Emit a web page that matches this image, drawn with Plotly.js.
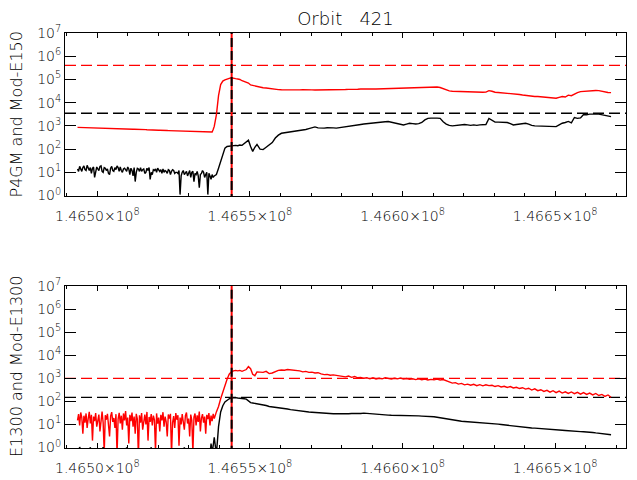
<!DOCTYPE html>
<html><head><meta charset="utf-8">
<script src="https://cdn.plot.ly/plotly-3.0.1.min.js"></script>
<style>html,body{margin:0;padding:0;background:#fff}#chart{width:637px;height:480px}</style>
</head><body><div id="chart"></div>
<script>
// Sample times (shared by all four series)
const time = [
146493500,146493850,146494200,146494550,146494900,146495250,146495600,146495950,146496300,146496650,
146497000,146497350,146497700,146498050,146498400,146498750,146499100,146499450,146499800,146500150,
146500500,146500850,146501200,146501550,146501900,146502250,146502600,146502950,146503300,146503650,
146504000,146504350,146504700,146505050,146505400,146505750,146506100,146506450,146506800,146507150,
146507500,146507850,146508200,146508550,146508900,146509250,146509600,146509950,146510300,146510650,
146511000,146511350,146511700,146512050,146512400,146512750,146513100,146513450,146513800,146514150,
146514500,146514850,146515200,146515550,146515900,146516250,146516600,146516950,146517300,146517650,
146518000,146518350,146518700,146519050,146519400,146519750,146520100,146520450,146520800,146521150,
146521500,146521850,146522200,146522550,146522900,146523250,146523600,146523950,146524300,146524650,
146525000,146525350,146525700,146526050,146526400,146526750,146527100,146527450,146527800,146528150,
146528500,146528850,146529200,146529550,146529900,146530250,146530600,146530950,146531300,146531650,
146532000,146532350,146532700,146533050,146533400,146533750,146534100,146534450,146534800,146535150,
146535500,146535850,146536200,146536550,146536900,146537250,146537600,146537950,146538300,
146539000,146539700,146540400,146541100,146541800,146542500,146543200,146543900,146544600,146545300,
146546000,146546700,146547400,146548100,146548800,146549500,146550200,146550900,146551600,146552300,
146553300,146554300,146555300,146556300,146557300,146558300,146559300,146560300,146561300,146562300,
146563300,146564300,146565300,146566300,146567300,146568300,146569300,146570300,146571300,146572300,
146573300,146574300,146575300,146576300,146577300,146578300,146579300,146580300,146581300,146582300,
146583300,146584300,146585300,146586300,146587300,146588300,146589300,146590300,146591300,146592300,
146593300,146594300,146595300,146596300,146597300,146598300,146599300,146600300,146601300,146602300,
146603300,146604300,146605300,146606300,146607300,146608300,146609300,146610300,146611300,146612300,
146613300,146614300,146615300,146616300,146617300,146618300,146619300,146620300,146621300,146622300,
146623300,146624300,146625300,146626300,146627300,146628300,146629300,146630300,146631300,146632300,
146633300,146634300,146635300,146636300,146637300,146638300,146639300,146640300,146641300,146642300,
146643300,146644300,146645300,146646300,146647300,146648300,146649300,146650300,146651300,146652300,
146653300,146654300,146655300,146656300,146657300,146658300,146659300,146660300,146661300,146662300,
146663300,146664300,146665300,146666300,146667300,146668300
];

// Panel 1 (P4GM and Mod-E150)
const panel1Red = [
860,855,850,848,845,848,850,845,840,835,
830,832,835,828,820,822,825,820,815,812,
810,805,800,802,805,798,790,792,795,788,
780,775,770,772,775,768,760,755,750,752,
755,748,740,738,735,732,730,728,725,722,
720,718,715,718,720,710,700,702,705,698,
690,688,685,688,690,682,675,672,670,668,
665,662,660,658,655,652,650,652,655,648,
640,638,635,632,630,628,625,622,620,618,
615,612,610,608,605,608,610,605,600,598,
595,592,590,588,585,588,590,585,580,578,
575,572,570,568,565,568,570,565,560,558,
555,558,560,555,550,548,545,700,950,
3000,20000,60000,85000,95000,105000,112000,118000,110000,108000,
104000,100000,88000,82000,76000,70000,58000,55000,52000,50000,
46000,44000,43000,41000,38000,37000,36500,36000,35500,35000,
35500,36000,35000,35500,36500,37000,36000,35500,35000,35000,
34500,35000,35500,35000,35500,36000,36500,37000,37000,37500,
37000,37500,38000,38500,38000,38500,39000,38500,39000,39500,
39000,40000,41000,40500,41000,42000,41500,42000,42500,42000,
43000,43500,44000,45000,46000,47000,48000,47500,47000,45000,
40000,36000,32000,31000,30500,30000,29500,29000,28500,28500,
28000,28000,28500,28000,28500,33000,31000,28000,27500,27000,
26500,26000,25500,24500,23500,22500,21500,20500,19500,19000,
18500,18500,18000,18000,17500,17000,16500,15500,17000,18500,
17500,21000,20000,24000,27000,30000,31000,32000,32500,33000,
33500,33000,31000,28000,27500,27000
];
const panel1Black = [
14,11,18,13,11,16,19,13,12,20,
15,12,16,9,15,17,6,12,17,14,
12,18,19,11,10,16,15,12,14,9,
8,15,18,12,11,16,13,19,16,11,
17,12,10,14,15,13,11,17,14,8,
15,12,7,16,4,10,15,14,11,16,
11,13,14,9,10,15,12,16,5,10,
8,13,12,14,10,15,12,11,13,9,
14,10,12,11,9,13,12,8,11,13,
12,9,10,10,9,12,1.1,7,10,12,
8,10,11,7,9,12,6,10,11,4,
9,8,11,7,2.2,8,9,12,10,6,
8,10,1.1,9,7,5,8,6,7,
8,15,30,60,110,130,135,140,135,145,
140,150,145,170,200,240,130,80,120,160,
100,95,120,150,190,300,400,480,500,520,
540,560,600,620,650,700,760,850,900,820,
790,800,830,850,820,800,830,880,900,950,
1000,1050,1100,1150,1200,1250,1230,1300,1350,1400,
1450,1500,1550,1450,1300,1200,1100,1100,1200,1300,
1250,1200,1250,1400,1800,2100,2150,2200,2150,2100,
1500,1200,1050,1000,1050,1100,1100,1150,1100,1050,
1100,1050,1100,1100,1150,2100,1700,1450,1450,1400,
1450,1400,1250,1100,1150,1200,1300,1300,1200,1050,
1000,1000,980,1000,1000,980,1000,930,1100,1300,
1400,1550,1350,2300,2100,2200,3100,3000,3200,3100,
3200,3200,3000,2700,2600,2500
];

// Panel 2 (E1300 and Mod-E1300)
const panel2Red = [
15,28,9,33,20,4,24,12,30,7,
18,35,11,26,2,22,14,31,8,19,
27,5,21,36,12,0.6,25,16,29,10,
3,23,34,13,19,7,28,0.5,17,32,
11,24,6,30,15,38,9,20,1.5,26,
14,33,8,22,4,29,17,0.4,25,12,
31,6,19,27,10,35,2,21,13,28,
9,24,16,0.7,30,11,20,5,26,15,
34,8,22,13,3,27,18,29,0.5,12,
23,7,31,16,25,1.2,20,10,28,14,
6,24,33,11,18,3,27,15,0.6,21,
30,9,25,13,36,5,19,28,12,22,
4,26,17,31,9,24,14,29,18,
35,60,130,260,500,900,1500,1900,2100,2200,
2100,2200,2000,2200,2400,3200,2600,1500,1300,1900,
1900,1800,2000,1600,1700,2000,2200,2300,2250,2400,
2300,2350,2200,2100,1900,2000,1800,1850,1700,1750,
1550,1450,1480,1350,1400,1350,1300,1250,1150,1250,
1100,1200,1050,1100,1000,1050,950,1050,930,1000,
950,1050,980,920,1000,950,1030,920,980,900,
960,880,950,870,920,850,900,860,920,850,
880,780,700,620,650,560,600,520,560,500,
550,480,530,470,520,480,500,440,480,420,
450,400,440,380,410,360,390,340,370,310,
350,290,320,270,300,250,290,240,280,230,
260,220,255,215,245,205,240,200,230,190,
220,180,200,165,190,150
];
const panel2Black = [
0.8,0.6,1.05,0.7,0.6,0.5,0.7,0.4,0.5,0.8,
0.9,0.6,1.03,0.5,0.6,0.7,0.4,0.5,0.8,0.6,
0.7,0.5,0.5,0.8,1.04,0.6,0.6,0.4,0.8,0.7,
0.3,0.6,0.7,0.5,0.6,0.8,0.9,0.5,0.5,0.7,
0.6,0.4,0.8,0.6,0.4,0.7,1.02,0.5,0.7,0.6,
0.5,0.8,0.6,0.7,0.8,0.5,0.3,0.6,0.7,0.4,
0.5,0.6,0.9,0.7,0.6,0.5,0.4,0.6,0.7,1.03,
0.5,0.7,0.6,0.5,0.8,0.6,0.4,0.7,0.7,0.5,
0.6,0.4,0.9,0.6,0.3,0.5,0.6,0.7,0.8,0.6,
0.5,0.7,0.7,0.4,0.4,0.6,0.8,0.5,0.6,0.7,
1.02,0.5,0.4,0.6,0.7,0.5,0.6,0.8,0.5,0.4,
0.8,0.6,0.6,0.7,0.4,0.5,0.7,0.6,0.5,0.3,
0.6,0.5,0.7,0.4,0.5,1.5,0.6,1.2,2.8,
0.5,8,35,65,95,115,130,140,145,145,
140,140,135,130,125,100,88,85,82,80,
75,72,66,60,58,56,55,53,50,47,
44,42,40,38,36,35,34.5,34,33,32,
31,30.5,30,29.5,29,29.5,29,29,28.5,29,
30,29.5,30,30,31,30,29.5,30,29,28,
27,26,25.5,25,25,24.5,24.5,24,24.5,24,
23.5,24,23.5,23,23,22.5,22,21.5,20.5,19.5,
18,17,16,15,14.5,14,13.8,13.5,13.2,13,
12.8,12.6,12.4,12.2,12,11.7,11.2,10.8,10.3,9.9,
9.5,9.2,8.8,8.4,8.0,7.7,7.4,7.3,7.1,7.0,
6.9,6.8,6.7,6.5,6.3,6.2,6.1,6.0,5.8,5.6,
5.5,5.3,5.2,5.1,5.0,4.9,4.8,4.8,4.7,4.5,
4.3,4.1,3.9,3.8,3.7,3.6
];

// Reference levels and event time
const panel1RedLevel = 4.0e5;
const panel1BlackLevel = 3.5e3;
const panel2RedLevel = 1.0e3;
const panel2BlackLevel = 150;
const eventTime = 146544000;

// Ticks
const xTickVals = [146500000, 146550000, 146600000, 146650000];
const xTickText = ['1.4650×10<sup>8</sup>', '1.4655×10<sup>8</sup>', '1.4660×10<sup>8</sup>', '1.4665×10<sup>8</sup>'];
const yTickVals = [1, 10, 100, 1e3, 1e4, 1e5, 1e6, 1e7];
const yTickText = ['10<sup>0</sup>','10<sup>1</sup>','10<sup>2</sup>','10<sup>3</sup>','10<sup>4</sup>','10<sup>5</sup>','10<sup>6</sup>','10<sup>7</sup>'];
const xRange = [146489400, 146673200];
const yRangeLog = [-0.02, 7];
const yLineSpan = [0.01, 1e8];

const FONT = 'DejaVu Sans, Liberation Sans, Arial, sans-serif';
const W = 200;

function panelTraces(xa, ya, red, black, redLevel, blackLevel) {
  return [
    {x: xRange, y: [redLevel, redLevel], xaxis: xa, yaxis: ya, mode: 'lines',
     line: {color: '#ff0000', width: 1.3, dash: '11px,5px'}},
    {x: xRange, y: [blackLevel, blackLevel], xaxis: xa, yaxis: ya, mode: 'lines',
     line: {color: '#000000', width: 1.3, dash: '11px,5px'}},
    {x: time, y: red, xaxis: xa, yaxis: ya, mode: 'lines',
     line: {color: '#ff0000', width: 1.4}},
    {x: time, y: black, xaxis: xa, yaxis: ya, mode: 'lines',
     line: {color: '#000000', width: 1.4}},
    {x: [eventTime, eventTime], y: yLineSpan, xaxis: xa, yaxis: ya, mode: 'lines',
     line: {color: '#ff0000', width: 2}},
    {x: [eventTime, eventTime], y: yLineSpan, xaxis: xa, yaxis: ya, mode: 'lines',
     line: {color: '#000000', width: 2, dash: '9px,4px'}}
  ];
}

const traces = [].concat(
  panelTraces('x', 'y', panel1Red, panel1Black, panel1RedLevel, panel1BlackLevel),
  panelTraces('x2', 'y2', panel2Red, panel2Black, panel2RedLevel, panel2BlackLevel)
);

function xAxis(anchor) {
  return {
    anchor: anchor, domain: [0, 1], range: xRange,
    tickmode: 'array', tickvals: xTickVals, ticktext: xTickText,
    ticks: 'inside', ticklen: 5, tickwidth: 1, tickcolor: '#000',
    minor: {tick0: 146500000, dtick: 10000, ticks: 'inside', ticklen: 3, tickwidth: 1, tickcolor: '#000', showgrid: false},
    showline: true, mirror: 'ticks', linecolor: '#000', linewidth: 1,
    showgrid: false, zeroline: false, ticklabelstandoff: 7,
    tickfont: {family: FONT, size: 14, color: '#000', weight: W}
  };
}
function yAxis(anchor, domain) {
  return {
    anchor: anchor, domain: domain, type: 'log', range: yRangeLog,
    tickmode: 'array', tickvals: yTickVals, ticktext: yTickText,
    ticks: 'inside', ticklen: 11, tickwidth: 1, tickcolor: '#000',
    showline: true, mirror: 'ticks', linecolor: '#000', linewidth: 1,
    showgrid: false, zeroline: false,
    tickfont: {family: FONT, size: 14, color: '#000', weight: W}
  };
}

const topDomain = [0.6072, 1];
const botDomain = [0, 0.3904];

const layout = {
  width: 637, height: 480,
  margin: {l: 65, r: 11, t: 33, b: 32},
  paper_bgcolor: '#fff', plot_bgcolor: '#fff',
  showlegend: false,
  font: {family: FONT, color: '#000'},
  title: {text: 'Orbit\u00a0\u00a0\u00a0421', font: {family: FONT, size: 18, color: '#000', weight: W},
          x: 0.5, xref: 'paper', xanchor: 'center', y: 1 - 18.5/480, yref: 'container', yanchor: 'middle'},
  xaxis: xAxis('y'),
  yaxis: yAxis('x', topDomain),
  xaxis2: xAxis('y2'),
  yaxis2: yAxis('x2', botDomain),
  annotations: [
    {text: 'P4GM and Mod-E150', xref: 'paper', yref: 'paper', x: 0, y: (topDomain[0] + topDomain[1]) / 2,
     xshift: -48, textangle: -90, showarrow: false, xanchor: 'center', yanchor: 'middle',
     font: {family: FONT, size: 16, color: '#000', weight: W}},
    {text: 'E1300 and Mod-E1300', xref: 'paper', yref: 'paper', x: 0, y: (botDomain[0] + botDomain[1]) / 2,
     xshift: -48, textangle: -90, showarrow: false, xanchor: 'center', yanchor: 'middle',
     font: {family: FONT, size: 16, color: '#000', weight: W}}
  ]
};

Plotly.newPlot('chart', traces, layout, {staticPlot: true, displayModeBar: false});
</script>
</body></html>
